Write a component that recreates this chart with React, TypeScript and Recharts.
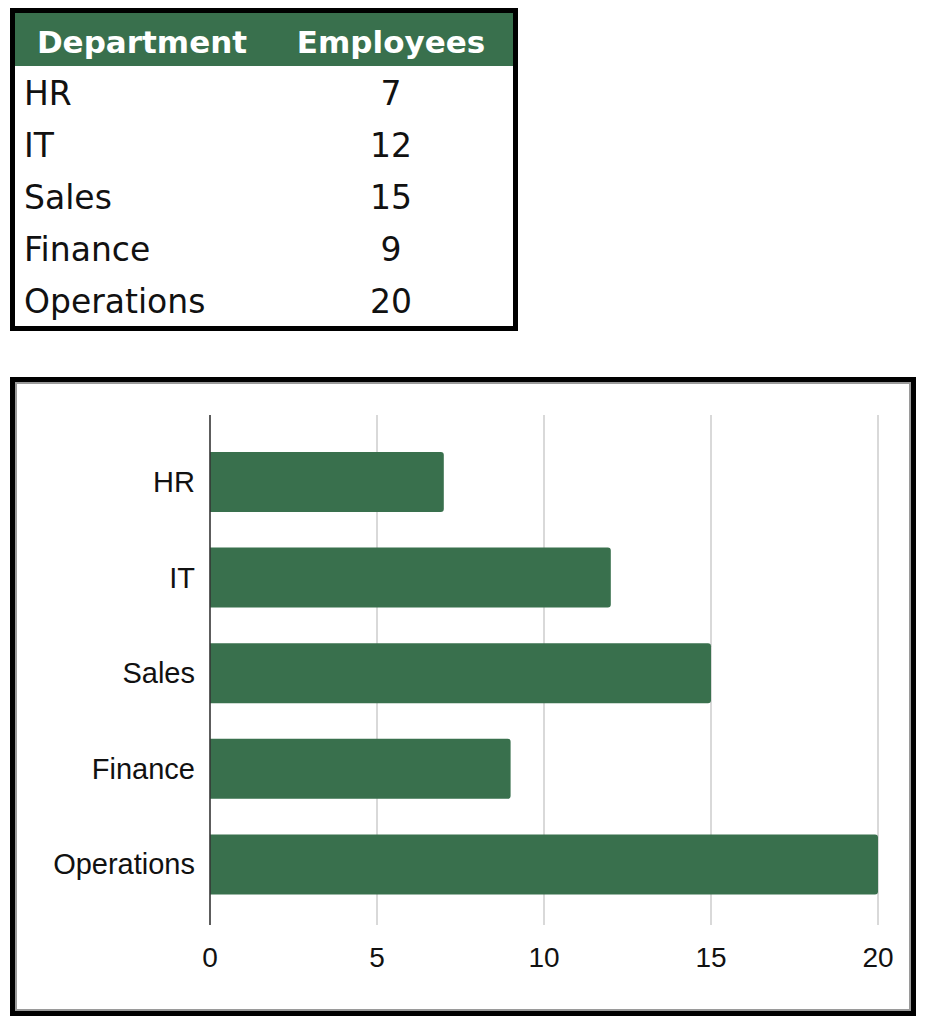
import { Bar, BarChart, CartesianGrid, Cell, XAxis, YAxis } from "recharts";

const departments = ["HR", "IT", "Sales", "Finance", "Operations"];
const employees = [7, 12, 15, 9, 20];
const xTicks = [0, 5, 10, 15, 20];

const GREEN = "#39704d";
const TABLE_FONT = '"DejaVu Sans", sans-serif';
const CHART_FONT = '"Liberation Sans", Arial, sans-serif';

const rows = departments.map((name, i) => ({ name, value: employees[i] }));

function DataTable() {
  return (
    <div
      style={{
        marginLeft: 2,
        width: 498,
        border: "5px solid #000",
        fontFamily: TABLE_FONT,
        background: "#fff",
      }}
    >
      <div
        style={{
          display: "flex",
          height: 53,
          background: GREEN,
          color: "#fff",
          fontWeight: "bold",
          fontSize: 31,
          alignItems: "center",
          paddingTop: 4,
          boxSizing: "border-box",
        }}
      >
        <div style={{ width: 254, textAlign: "center" }}>Department</div>
        <div style={{ width: 244, textAlign: "center" }}>Employees</div>
      </div>
      {rows.map((r) => (
        <div
          key={r.name}
          style={{
            display: "flex",
            height: 52,
            alignItems: "center",
            fontSize: 33,
            color: "#111",
            paddingTop: 3,
            boxSizing: "border-box",
          }}
        >
          <div style={{ width: 254, paddingLeft: 9, boxSizing: "border-box" }}>{r.name}</div>
          <div style={{ width: 244, textAlign: "center" }}>{r.value}</div>
        </div>
      ))}
    </div>
  );
}

export default function App() {
  return (
    <div style={{ width: 909 }}>
      <DataTable />
      <div
        style={{
          marginTop: 46,
          marginLeft: 2,
          width: 896,
          border: "5px solid #000",
          background: "#fff",
        }}
      >
        <div style={{ border: "2px solid #9a9a9a", width: 892, height: 625 }}>
          <BarChart
            width={892}
            height={625}
            data={rows}
            layout="vertical"
            margin={{ top: 31, right: 31, left: 0, bottom: 24 }}
          >
            <CartesianGrid horizontal={false} stroke="#cccccc" strokeWidth={1.5} />
            <XAxis
              type="number"
              domain={[0, 20]}
              ticks={xTicks}
              axisLine={false}
              tickLine={false}
              tickSize={6}
              tickMargin={16}
              height={60}
              tick={{ fill: "#111", fontSize: 28, fontFamily: CHART_FONT }}
            />
            <YAxis
              type="category"
              dataKey="name"
              width={193}
              axisLine={{ stroke: "#333", strokeWidth: 1.5 }}
              tickLine={false}
              tickSize={6}
              tickMargin={9}
              padding={{ top: 19, bottom: 13 }}
              tick={{ fill: "#111", fontSize: 29, fontFamily: CHART_FONT }}
            />
            <Bar dataKey="value" barSize={60} radius={[0, 3, 3, 0]} isAnimationActive={false}>
              {rows.map((r) => (
                <Cell key={r.name} fill={GREEN} />
              ))}
            </Bar>
          </BarChart>
        </div>
      </div>
    </div>
  );
}
